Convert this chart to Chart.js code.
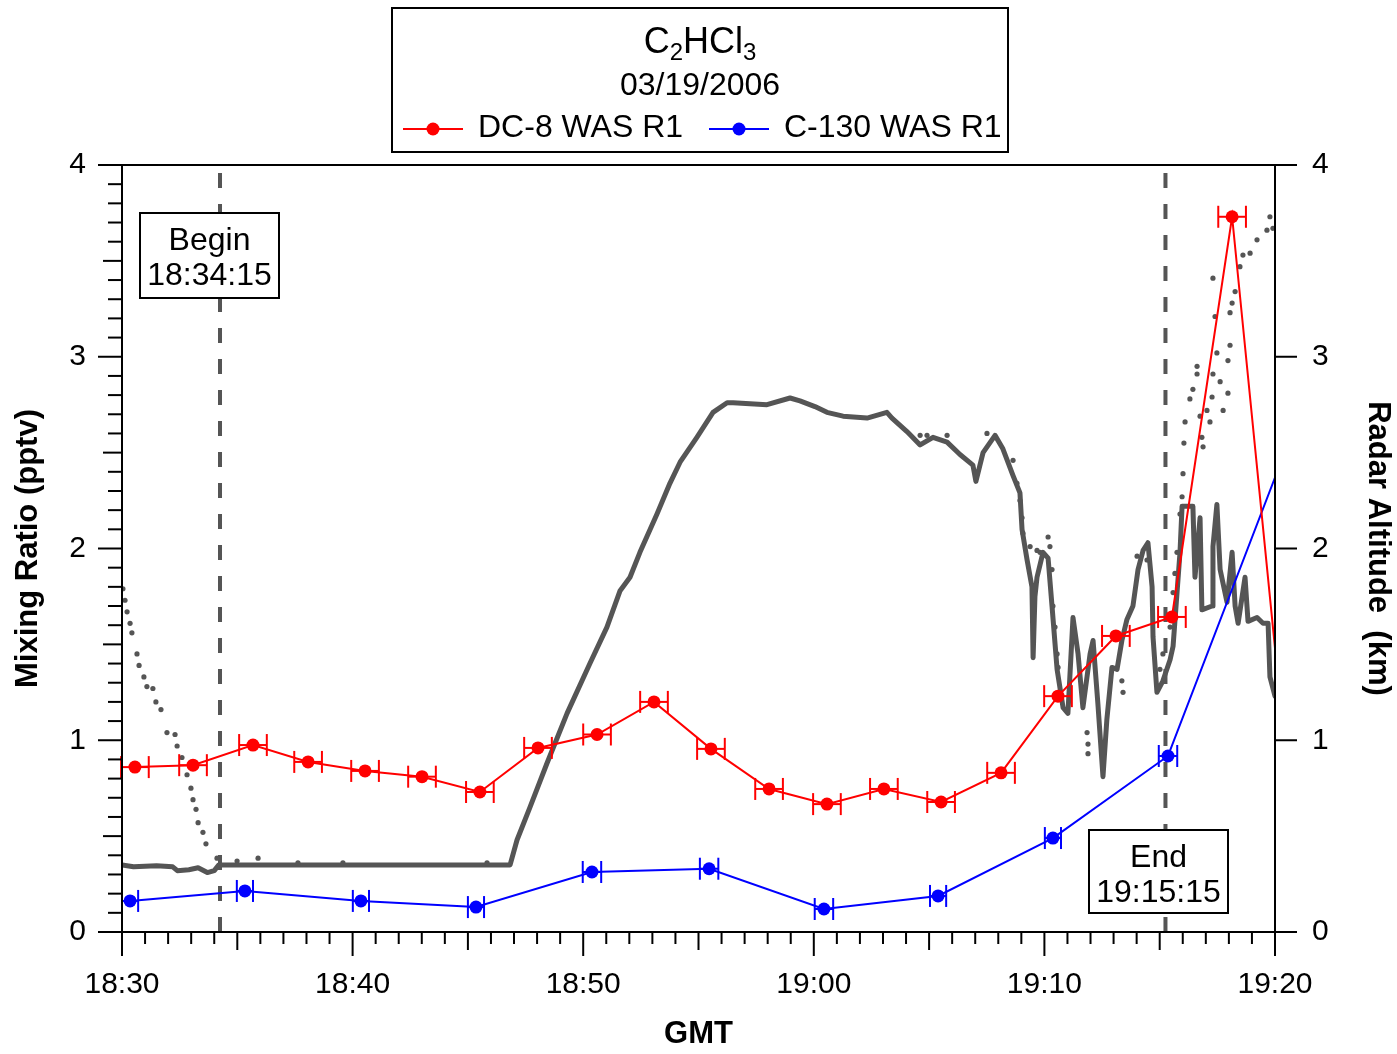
<!DOCTYPE html>
<html>
<head>
<meta charset="utf-8">
<script src="https://cdn.jsdelivr.net/npm/chart.js@4/dist/chart.umd.min.js"></script>
<style>
    html, body { margin: 0; padding: 0; background: #fff; }
    #chart { display: block; }
</style>
</head>
<body>
<canvas id="chart" width="1397" height="1054"></canvas>
<script>
const FONT = "'Liberation Sans', Arial, sans-serif";
const RED = '#ff0000';
const BLUE = '#0000ff';
const GREY = '#555555';

// all times are minutes after 18:30 GMT
const X_TICK_LABELS = ['18:30', '18:40', '18:50', '19:00', '19:10', '19:20'];
const BEGIN_TIME = 4.25;   // 18:34:15
const END_TIME = 45.25;    // 19:15:15

const dc8Time = [0.56, 3.08, 5.68, 8.07, 10.54, 13.01, 15.52, 18.04, 20.60, 23.07,
    25.54, 28.06, 30.57, 33.04, 35.52, 38.12, 40.59, 43.10, 45.53, 48.14, 50];
const dc8Mix = [0.86, 0.87, 0.975, 0.887, 0.84, 0.81, 0.73, 0.96, 1.03, 1.20,
    0.955, 0.746, 0.667, 0.746, 0.678, 0.83, 1.23, 1.544, 1.643, 3.73, 1.48];
const dc8TimeErr = [0.6, 0.6, 0.6, 0.6, 0.6, 0.6, 0.6, 0.6, 0.6, 0.6,
    0.6, 0.6, 0.6, 0.6, 0.6, 0.6, 0.6, 0.6, 0.6, 0.6, 0];

const c130Time = [0.35, 5.33, 10.36, 15.35, 20.38, 25.46, 30.44, 35.39, 40.37, 45.36, 50];
const c130Mix = [0.162, 0.214, 0.162, 0.13, 0.313, 0.33, 0.12, 0.188, 0.49, 0.918, 2.37];
const c130TimeErr = [0.35, 0.35, 0.35, 0.35, 0.4, 0.4, 0.4, 0.35, 0.35, 0.4, 0];

// radar altitude, solid trace (km)
const altSolidTime = [0, 0.5, 1.5, 2.2, 2.4, 2.9, 3.3, 3.7, 4.0, 4.2, 4.5, 10, 16.7,
    16.83, 17.13, 17.69, 18.43, 19.30, 20.29, 21.03, 21.60, 22.03, 22.46, 23.20, 23.76,
    24.20, 24.93, 25.63, 26.24, 26.50, 27.97, 28.97, 29.40, 30.05, 30.57, 31.27, 32.31,
    33.17, 33.39, 34.04, 34.61, 35.17, 35.78, 36.34, 36.90, 37.03, 37.34, 37.86, 38.20,
    38.64, 38.94, 39.03, 39.25, 39.46, 39.51, 39.59, 39.68, 39.94, 40.16, 40.33, 40.55,
    40.81, 41.02, 41.24, 41.46, 41.67, 41.98, 42.11, 42.32, 42.54, 42.71, 42.93, 43.15,
    43.36, 43.58, 43.84, 44.06, 44.28, 44.49, 44.67, 44.71, 44.88, 45.14, 45.45, 45.58,
    45.88, 45.97, 46.44, 46.53, 46.75, 46.83, 47.27, 47.31, 47.48, 47.62, 47.92, 48.14,
    48.27, 48.40, 48.70, 48.83, 49.22, 49.48, 49.70, 49.78, 50];
const altSolidKm = [0.35, 0.34, 0.345, 0.34, 0.32, 0.325, 0.335, 0.31, 0.32, 0.35, 0.35, 0.35, 0.35,
    0.35, 0.48, 0.65, 0.88, 1.14, 1.40, 1.59, 1.78, 1.85, 1.98, 2.18, 2.34,
    2.45, 2.58, 2.71, 2.76, 2.76, 2.75, 2.785, 2.77, 2.74, 2.71, 2.69, 2.68,
    2.71, 2.68, 2.61, 2.54, 2.58, 2.555, 2.49, 2.435, 2.35, 2.50, 2.59, 2.52,
    2.38, 2.29, 2.10, 1.94, 1.80, 1.43, 1.75, 1.85, 1.98, 1.95, 1.70, 1.37,
    1.17, 1.14, 1.64, 1.45, 1.17, 1.45, 1.52, 1.19, 0.81, 1.11, 1.38, 1.37,
    1.52, 1.63, 1.70, 1.89, 1.99, 2.03, 1.80, 1.54, 1.25, 1.31, 1.42, 1.49,
    1.98, 2.22, 2.22, 1.85, 2.16, 1.68, 1.70, 2.01, 2.23, 1.89, 1.72, 1.98,
    1.70, 1.61, 1.85, 1.62, 1.64, 1.61, 1.61, 1.33, 1.23];

// radar altitude, dotted trace (km)
const altDotTime = [0.04, 0.13, 0.22, 0.35, 0.43, 0.65, 0.74, 0.95, 1.08, 1.34, 1.47, 1.69,
    1.95, 2.30, 2.39, 2.60, 2.82, 2.99, 3.08, 3.21, 3.30, 3.51, 3.64, 4.12, 4.99, 5.90,
    7.63, 9.58, 15.83, 34.61, 34.91, 35.78, 37.51, 38.64, 38.81, 38.94, 39.03, 39.07,
    39.38, 39.68, 39.81, 40.16, 40.24, 40.33, 40.37, 40.46, 40.55, 40.59, 41.85, 41.89,
    41.89, 43.36, 43.41, 44.02, 44.45, 45.01, 45.14, 45.45, 45.58, 45.66, 45.75, 45.88,
    45.97, 46.01, 46.05, 46.10, 46.31, 46.44, 46.62, 46.62, 46.75, 46.83, 46.88, 47.05,
    47.18, 47.27, 47.31, 47.31, 47.40, 47.48, 47.62, 47.75, 47.96, 47.96, 48.05, 48.05,
    48.14, 48.27, 48.48, 48.61, 48.92, 49.22, 49.65, 49.78, 49.91];
const altDotKm = [1.79, 1.73, 1.67, 1.61, 1.56, 1.45, 1.39, 1.33, 1.28, 1.27, 1.20, 1.16,
    1.04, 1.03, 0.97, 0.91, 0.82, 0.75, 0.69, 0.64, 0.57, 0.52, 0.46, 0.385, 0.37, 0.385,
    0.36, 0.36, 0.36, 2.59, 2.59, 2.59, 2.60, 2.46, 2.34, 2.25, 2.16, 2.08,
    2.01, 1.99, 1.98, 2.06, 2.01, 1.89, 1.70, 1.59, 1.45, 1.38, 1.04, 0.98,
    0.93, 1.31, 1.25, 1.96, 1.94, 1.37, 1.45, 1.59, 1.77, 1.87, 1.98, 2.18,
    2.27, 2.39, 2.55, 2.66, 2.78, 2.83, 2.91, 2.95, 2.69, 2.58, 2.53, 2.72,
    2.66, 2.79, 2.91, 3.41, 3.21, 3.02, 2.87, 2.72, 2.81, 2.98, 3.06, 3.23,
    3.28, 3.34, 3.47, 3.53, 3.54, 3.61, 3.66, 3.73, 3.67];

const toPoints = (xs, ys) => xs.map((t, i) => ({x: t, y: ys[i]}));

const line = (ctx, x1, y1, x2, y2) => {
    ctx.beginPath();
    ctx.moveTo(x1, y1);
    ctx.lineTo(x2, y2);
    ctx.stroke();
};

// vertical dashed markers for the begin / end of the intercomparison
const flightMarks = {
    id: 'flightMarks',
    beforeDatasetsDraw(chart) {
        const {ctx, chartArea: a, scales: {x}} = chart;
        ctx.save();
        ctx.strokeStyle = GREY;
        ctx.lineWidth = 4;
        ctx.setLineDash([15, 16]);
        [BEGIN_TIME, END_TIME].forEach(t => {
            const px = x.getPixelForValue(t);
            line(ctx, px, a.bottom, px, a.top);
        });
        ctx.restore();
    }
};

// horizontal error bars (sampling time) with caps
const timeErrorBars = {
    id: 'timeErrorBars',
    afterDatasetDraw(chart, args) {
        const ds = chart.data.datasets[args.index];
        if (!ds.timeErr) return;
        const {ctx, scales: {x}} = chart;
        const meta = args.meta;
        ctx.save();
        ctx.strokeStyle = ds.borderColor;
        ctx.lineWidth = 2;
        meta.data.forEach((pt, i) => {
            const err = ds.timeErr[i];
            if (!err) return;
            const t = ds.data[i].x;
            const x1 = x.getPixelForValue(t - err);
            const x2 = x.getPixelForValue(t + err);
            line(ctx, x1, pt.y, x2, pt.y);
            line(ctx, x1, pt.y - 11, x1, pt.y + 11);
            line(ctx, x2, pt.y - 11, x2, pt.y + 11);
        });
        ctx.restore();
    }
};

// plot frame and tick marks
const frame = {
    id: 'frame',
    afterDatasetsDraw(chart) {
        const {ctx, chartArea: a, scales: {x, y, y2}} = chart;
        ctx.save();
        ctx.strokeStyle = '#000';
        ctx.lineWidth = 2;
        ctx.strokeRect(a.left, a.top, a.right - a.left, a.bottom - a.top);
        for (let i = 0; i <= 40; i++) {
            const py = y.getPixelForValue(i / 10);
            const len = i % 10 === 0 ? 24 : (i % 5 === 0 ? 19 : 14);
            line(ctx, a.left - len, py, a.left, py);
        }
        for (let i = 0; i <= 4; i++) {
            const py = y2.getPixelForValue(i);
            line(ctx, a.right, py, a.right + 22, py);
        }
        for (let i = 0; i <= 50; i++) {
            const px = x.getPixelForValue(i);
            const len = i % 10 === 0 ? 24 : (i % 5 === 0 ? 18 : 12);
            line(ctx, px, a.bottom, px, a.bottom + len);
        }
        ctx.restore();
    }
};

const textBox = (ctx, left, top, w, h, lines) => {
    ctx.fillStyle = '#fff';
    ctx.fillRect(left, top, w, h);
    ctx.strokeStyle = '#000';
    ctx.lineWidth = 2;
    ctx.strokeRect(left, top, w, h);
    ctx.fillStyle = '#000';
    ctx.font = `32px ${FONT}`;
    ctx.textAlign = 'center';
    ctx.textBaseline = 'alphabetic';
    ctx.fillText(lines[0], left + w / 2, top + 37);
    ctx.fillText(lines[1], left + w / 2, top + 72);
};

const annotations = {
    id: 'annotations',
    afterDatasetsDraw(chart) {
        const ctx = chart.ctx;
        ctx.save();
        textBox(ctx, 140, 213, 139, 85, ['Begin', '18:34:15']);
        textBox(ctx, 1089, 830, 139, 83, ['End', '19:15:15']);
        ctx.restore();
    }
};

// title box with formula, date and legend
const header = {
    id: 'header',
    afterDraw(chart) {
        const ctx = chart.ctx;
        ctx.save();
        ctx.fillStyle = '#fff';
        ctx.fillRect(392, 8, 616, 144);
        ctx.strokeStyle = '#000';
        ctx.lineWidth = 2;
        ctx.strokeRect(392, 8, 616, 144);

        const parts = [['C', false], ['2', true], ['HCl', false], ['3', true]];
        const mainFont = `36px ${FONT}`, subFont = `24px ${FONT}`;
        let total = 0;
        parts.forEach(([t, sub]) => {
            ctx.font = sub ? subFont : mainFont;
            total += ctx.measureText(t).width;
        });
        let cx = 700 - total / 2;
        ctx.fillStyle = '#000';
        ctx.textAlign = 'left';
        ctx.textBaseline = 'alphabetic';
        parts.forEach(([t, sub]) => {
            ctx.font = sub ? subFont : mainFont;
            ctx.fillText(t, cx, sub ? 60 : 53);
            cx += ctx.measureText(t).width;
        });

        ctx.font = `32px ${FONT}`;
        ctx.textAlign = 'center';
        ctx.fillText('03/19/2006', 700, 95);

        const items = [[chart.data.datasets[0], 403, 478], [chart.data.datasets[1], 709, 784]];
        items.forEach(([ds, lx, tx]) => {
            ctx.strokeStyle = ds.borderColor;
            ctx.fillStyle = ds.borderColor;
            ctx.lineWidth = 2;
            line(ctx, lx, 129, lx + 60, 129);
            ctx.beginPath();
            ctx.arc(lx + 30, 129, 6.5, 0, Math.PI * 2);
            ctx.fill();
            ctx.fillStyle = '#000';
            ctx.textAlign = 'left';
            ctx.fillText(ds.label, tx, 137);
        });
        ctx.restore();
    }
};

const markerRadius = r => c => (c.raw && c.raw.x < 50 ? r : 0);

new Chart(document.getElementById('chart'), {
    type: 'line',
    data: {
        datasets: [
            {
                label: 'DC-8 WAS R1',
                data: toPoints(dc8Time, dc8Mix),
                timeErr: dc8TimeErr,
                borderColor: RED,
                backgroundColor: RED,
                borderWidth: 2,
                pointRadius: markerRadius(6.5),
                pointBorderWidth: 0,
                yAxisID: 'y',
            },
            {
                label: 'C-130 WAS R1',
                data: toPoints(c130Time, c130Mix),
                timeErr: c130TimeErr,
                borderColor: BLUE,
                backgroundColor: BLUE,
                borderWidth: 2,
                pointRadius: markerRadius(6.5),
                pointBorderWidth: 0,
                yAxisID: 'y',
            },
            {
                label: 'Radar altitude (dotted)',
                data: toPoints(altDotTime, altDotKm),
                showLine: false,
                backgroundColor: GREY,
                borderColor: GREY,
                pointRadius: 2.6,
                pointBorderWidth: 0,
                yAxisID: 'y2',
            },
            {
                label: 'Radar altitude',
                data: toPoints(altSolidTime, altSolidKm),
                borderColor: GREY,
                borderWidth: 5,
                borderJoinStyle: 'round',
                borderCapStyle: 'round',
                pointRadius: 0,
                yAxisID: 'y2',
            },
        ]
    },
    options: {
        responsive: false,
        devicePixelRatio: 1,
        animation: false,
        layout: {padding: {top: 165, left: 0, right: 0, bottom: 0}},
        plugins: {
            legend: {display: false},
            tooltip: {enabled: false},
        },
        scales: {
            x: {
                type: 'linear',
                min: 0,
                max: 50,
                grid: {display: false, drawTicks: false},
                border: {display: false},
                ticks: {
                    stepSize: 10,
                    padding: 35,
                    color: '#000',
                    font: {family: FONT, size: 30},
                    maxRotation: 0,
                    callback: v => X_TICK_LABELS[v / 10],
                },
                title: {
                    display: true,
                    text: 'GMT',
                    color: '#000',
                    font: {family: FONT, size: 31, weight: 'bold'},
                    padding: {top: 0, bottom: 1},
                },
                afterFit: s => { s.height = 122; },
            },
            y: {
                position: 'left',
                min: 0,
                max: 4,
                grid: {display: false, drawTicks: false},
                border: {display: false},
                ticks: {
                    stepSize: 1,
                    padding: 36,
                    color: '#000',
                    font: {family: FONT, size: 30},
                },
                title: {
                    display: true,
                    text: 'Mixing Ratio (pptv)',
                    color: '#000',
                    font: {family: FONT, size: 31, weight: 'bold'},
                    padding: {top: 10, bottom: 0},
                },
                afterFit: s => { s.width = 122; },
            },
            y2: {
                position: 'right',
                min: 0,
                max: 4,
                grid: {display: false, drawTicks: false},
                border: {display: false},
                ticks: {
                    stepSize: 1,
                    padding: 37,
                    color: '#000',
                    font: {family: FONT, size: 30},
                },
                title: {
                    display: true,
                    text: 'Radar Altitude  (km)',
                    color: '#000',
                    font: {family: FONT, size: 31, weight: 'bold'},
                    padding: {top: 1, bottom: 0},
                },
                afterFit: s => { s.width = 122; },
            },
        },
    },
    plugins: [flightMarks, timeErrorBars, frame, annotations, header],
});
</script>
</body>
</html>
